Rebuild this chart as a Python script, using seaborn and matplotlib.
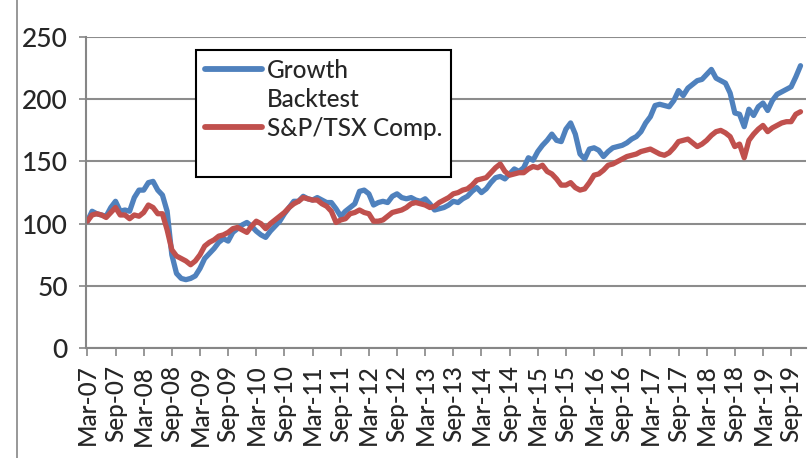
import pandas as pd
import numpy as np
import matplotlib.pyplot as plt
import seaborn as sns
from matplotlib.lines import Line2D

# monthly index levels, Mar-07 .. Nov-19
growth = [
    102, 110, 108, 107, 106, 113, 118, 110, 111, 110, 121, 127, 127, 133, 134, 127,
    123, 110, 75, 60, 56, 55, 56, 58, 64, 72, 76, 80, 85, 88, 86,
    93, 96, 99, 101, 98, 94, 91, 89, 94, 98, 102, 108, 113, 118, 118, 122, 120, 119,
    121, 119, 117, 117, 112, 106, 110, 113, 116, 126, 127,
    124, 115, 117, 118, 117, 122, 124, 121, 120, 121, 119, 118, 120, 116, 111, 112,
    113, 115, 118, 117, 120, 122, 126, 129, 125, 128, 133, 137, 138, 136, 140, 144,
    142, 145, 153, 151, 158, 163, 167, 172, 167, 166, 176, 181, 172, 156, 152, 160,
    161, 159, 154, 158, 161, 162, 163, 165, 168, 170, 174, 181, 186, 195, 196, 195,
    194, 199, 207, 203, 209, 212, 215, 216, 220, 224, 217, 215, 213, 205, 189, 188,
    178, 192, 187, 194, 197, 191, 199, 204, 206, 208, 210, 218, 227,
]
tsx = [
    102, 107, 108, 107, 105, 109, 113, 107, 107, 104, 107, 106, 109, 115, 113, 108,
    108, 95, 79, 74, 72, 70, 67, 70, 75, 82, 85, 87, 90, 91, 93,
    96, 97, 95, 93, 98, 102, 100, 96, 100, 103, 106, 109, 113, 116, 118, 121, 120, 119,
    119, 116, 114, 110, 101, 103, 104, 108, 109, 111, 109,
    108, 102, 102, 103, 106, 109, 110, 111, 113, 116, 117, 116, 115, 113, 114, 117,
    119, 121, 124, 125, 127, 128, 131, 135, 136, 137, 141, 145, 148, 142, 139, 140,
    141, 141, 144, 146, 145, 147, 142, 140, 136, 131, 131, 133, 129, 127, 128, 133,
    139, 140, 143, 147, 148, 150, 152, 154, 155, 156, 158, 159, 160, 158, 156, 155,
    157, 161, 166, 167, 168, 165, 162, 164, 167, 171, 174, 175, 173, 170, 162, 164,
    153, 167, 172, 176, 179, 174, 177, 179, 181, 182, 182, 188, 190,
]
series_names = ["Growth\nBacktest", "S&P/TSX Comp."]
colors = ["#4F81BD", "#C0504D"]

dates = pd.date_range("2007-03-01", periods=len(growth), freq="MS")
idx = np.arange(len(growth))
tick_pos = idx[::6]
tick_labels = [d.strftime("%b-%y") for d in dates[::6]]

df = pd.DataFrame({
    "t": np.concatenate([idx, idx]),
    "value": growth + tsx,
    "series": [series_names[0]] * len(growth) + [series_names[1]] * len(tsx),
})

sns.set_style("white")
plt.rcParams["font.family"] = ["Lato", "DejaVu Sans"]

fig = plt.figure(figsize=(8.11, 4.58), dpi=100)
ax = fig.add_axes([0.106, 0.240, 0.888, 0.679])

sns.lineplot(data=df, x="t", y="value", hue="series", palette=colors,
             linewidth=3.8, ax=ax, legend=False)

ax.set_xlim(-0.3, 153.2)
ax.set_ylim(0, 250)
ax.set_yticks([0, 50, 100, 150, 200, 250])
ax.set_xticks(tick_pos)
ax.set_xticklabels(tick_labels, rotation=90, fontsize=17.5, fontweight="medium")
for lab in ax.get_yticklabels():
    lab.set_fontweight("medium")
ax.tick_params(axis="y", labelsize=19, length=5, width=1.2, color="#868686",
               direction="out", left=True, pad=8)
ax.tick_params(axis="x", length=6, width=1.2, color="#868686",
               direction="out", bottom=True, pad=6)
ax.set_xlabel("")
ax.set_ylabel("")

ax.yaxis.grid(True, color="#8c8c8c", linewidth=1.5)
ax.xaxis.grid(False)
ax.set_axisbelow(True)
for side in ["top", "right"]:
    ax.spines[side].set_visible(False)
for side in ["left", "bottom"]:
    ax.spines[side].set_color("#868686")
    ax.spines[side].set_linewidth(1.5)

# legend: Excel-style, handle aligned with first label line
handles = [
    Line2D([], [], color=colors[0], lw=4.2, solid_capstyle="round"),
    Line2D([], [], color="none"),
    Line2D([], [], color=colors[1], lw=4.2, solid_capstyle="round"),
    Line2D([], [], color="none"),
]
labels = ["Growth", "Backtest", "S&P/TSX Comp.", " "]
leg = ax.legend(handles, labels, loc="upper left", bbox_to_anchor=(0.153, 0.958),
                borderaxespad=0, frameon=True, fancybox=False,
                prop={"size": 17.5, "weight": "medium"},
                handlelength=2.35, handletextpad=0.2, labelspacing=0.25,
                borderpad=0.35)
leg.get_frame().set_edgecolor("black")
leg.get_frame().set_linewidth(1.5)
leg.get_frame().set_facecolor("white")
leg.get_frame().set_alpha(1)

# chart-area border on the left
fig.add_artist(Line2D([0.021, 0.021], [0, 1], transform=fig.transFigure,
                      color="#868686", linewidth=1.2))

plt.savefig("out.png", dpi=100)
